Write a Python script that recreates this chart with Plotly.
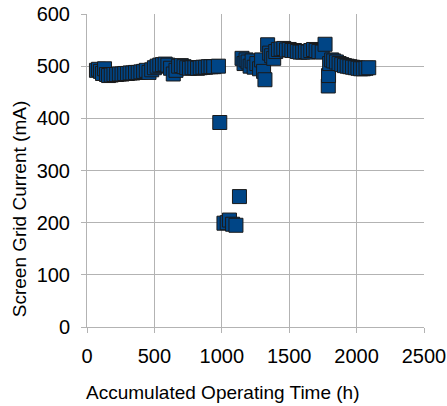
import plotly.graph_objects as go

# Accumulated operating time (h) and screen grid current (mA)
hours = [70, 85, 100, 115, 130, 145, 160, 180, 200, 220, 240, 260, 280, 300, 320, 340, 360, 380,
         400, 420, 440, 460, 480, 500, 520, 540, 560, 580, 600, 620, 640, 660, 680, 700, 720,
         740, 760, 780, 800, 820, 840, 860, 880, 900, 920, 940, 975,
         985, 1016, 1040, 1057, 1080, 1105, 1131,
         1150, 1165, 1180, 1195, 1210, 1225, 1240, 1260, 1280, 1295, 1310, 1320, 1340, 1355,
         1370, 1385, 1400, 1420, 1440, 1460, 1480, 1500, 1520, 1540, 1560, 1580, 1600, 1620,
         1640, 1660, 1680, 1700, 1720, 1745, 1766, 1790, 1792, 1800, 1815, 1830, 1850, 1870,
         1890, 1910, 1930, 1950, 1970, 1990, 2010, 2030, 2050, 2070, 2090]
current = [492, 494, 490, 486, 495, 484, 482, 483, 484, 484, 485, 485, 486, 486, 487, 487, 488, 488,
           489, 490, 492, 488, 493, 497, 500, 502, 503, 504, 502, 496, 485, 492, 500, 501, 499,
           497, 496, 497, 497, 496, 497, 498, 498, 499, 499, 499, 500,
           392, 199, 200, 205, 197, 195, 250,
           515, 505, 512, 508, 500, 510, 498, 505, 495, 512, 490, 474, 541, 525,
           520, 515, 528, 532, 533, 534, 531, 532, 530, 530, 528, 527, 527, 528,
           527, 530, 532, 530, 528, 527, 542, 462, 482, 505, 512, 510, 508, 505,
           503, 501, 500, 499, 498, 497, 496, 495, 495, 496, 497]

x_ticks = [0, 500, 1000, 1500, 2000, 2500]
y_ticks = [0, 100, 200, 300, 400, 500, 600]
x_title = "Accumulated Operating Time (h)"
y_title = "Screen Grid Current (mA)"

grid = "#b3b3b3"
font = "Liberation Sans, Arial, sans-serif"

fig = go.Figure(go.Scatter(
    x=hours, y=current, mode="markers",
    marker=dict(symbol="square", size=14, color="#004586",
                line=dict(color="#1a1a1a", width=1)),
))

fig.update_layout(
    width=447, height=406,
    margin=dict(l=87, r=23, t=14, b=79),
    paper_bgcolor="white", plot_bgcolor="white",
    showlegend=False,
    font=dict(family=font, size=20, color="#000000"),
    annotations=[
        dict(text=x_title, xref="paper", yref="paper", x=0.405, y=-0.208,
             xanchor="center", yanchor="middle", showarrow=False,
             font=dict(family=font, size=19, color="#000000")),
        dict(text=y_title, xref="paper", yref="paper", x=-0.2, y=0.375,
             xanchor="center", yanchor="middle", showarrow=False, textangle=-90,
             font=dict(family=font, size=19, color="#000000")),
    ],
)
fig.update_xaxes(
    range=[0, 2500], tickvals=x_ticks, ticks="outside", ticklen=5, tickcolor=grid,
    ticklabelstandoff=6, automargin=False,
    showgrid=True, gridcolor=grid, gridwidth=1, showline=True, linecolor=grid,
    zeroline=False, mirror=False,
)
fig.update_yaxes(
    range=[0, 600], tickvals=y_ticks, ticks="outside", ticklen=5, tickcolor=grid,
    ticklabelstandoff=7, automargin=False,
    showgrid=True, gridcolor=grid, gridwidth=1, showline=True, linecolor=grid,
    zeroline=False,
)

fig.write_html("out.html")
